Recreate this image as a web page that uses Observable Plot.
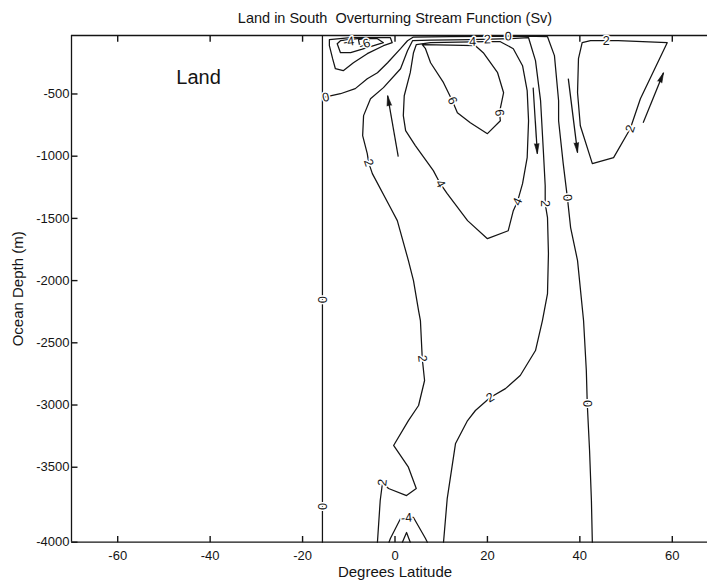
<!DOCTYPE html>
<html>
<head>
<meta charset="utf-8">
<script src="https://cdn.jsdelivr.net/npm/d3@7"></script>
<script src="https://cdn.jsdelivr.net/npm/@observablehq/plot@0.6"></script>
<style>
  html, body { margin: 0; padding: 0; background: #fff; overflow: hidden; }
  #chart svg { display: block; }
</style>
</head>
<body>
<div id="chart"></div>
<script>
// Axis ticks
const latTicks = [-60, -40, -20, 0, 20, 40, 60];
const depthTicks = [-4000, -3500, -3000, -2500, -2000, -1500, -1000, -500];

// Contours of the overturning stream function, [latitude, depth (m)]
const landEdgeZero = [[-15.7, -30], [-15.7, -4000]];

const zeroLine = [
  [-15.7, -530], [-11.8, -498], [-8.6, -457], [-6.0, -377], [-3.8, -329], [-1.6, -249],
  [1.2, -136], [2.7, -72], [3.9, -44], [12, -40], [20, -38], [28, -36], [33.0, -40],
  [34.5, -192], [35.4, -554], [35.4, -715], [36.4, -1060], [37.3, -1333], [38.0, -1574],
  [39.5, -1839], [40.8, -2321], [41.4, -2723], [41.6, -2988], [42.1, -3365], [42.5, -3722],
  [42.7, -4000]
];

const twoLine = [
  [-3.8, -4000], [-3.2, -3722], [-2.7, -3602], [-1.4, -3642], [2.5, -3689], [4.6, -3642],
  [2.9, -3500], [-0.3, -3325], [2.9, -3125], [5.1, -3004], [6.4, -2803], [5.9, -2627],
  [5.5, -2321], [5.1, -2241], [4.0, -2000], [2.9, -1839], [0.5, -1518], [-1.0, -1413],
  [-4.9, -1140], [-5.7, -1052], [-6.0, -980], [-7.0, -835], [-6.8, -674], [-5.3, -538],
  [-2.5, -449], [1.2, -297], [2.7, -152], [3.8, -72], [7.7, -68], [16.3, -64], [25, -56],
  [28.9, -48], [30.4, -232], [31.5, -554], [32.1, -956], [32.5, -1237], [32.5, -1381],
  [33.0, -1494], [33.2, -1783], [33.0, -2104], [31.9, -2321], [30.4, -2562], [27.1, -2763],
  [23.9, -2868], [20.6, -2940], [17.4, -3044], [15.7, -3125], [13.1, -3309], [11.3, -3709],
  [10.5, -4000]
];

const fourLoop = [
  [4.6, -104], [4.0, -168], [3.3, -329], [2.0, -514], [1.8, -674], [2.3, -795], [4.4, -915],
  [8.3, -1116], [9.8, -1221], [11.3, -1301], [15.7, -1518], [20.0, -1663], [24.5, -1599],
  [25.6, -1438], [26.5, -1365], [27.6, -1221], [28.6, -1012], [28.9, -715], [28.6, -473],
  [27.6, -273], [25.6, -136], [22.8, -80], [19.6, -80], [7.7, -88], [4.6, -104]
];

const sixLoop = [
  [5.9, -104], [6.6, -136], [7.7, -249], [10.5, -409], [12.4, -554], [13.5, -650],
  [16.3, -731], [20.0, -819], [22.8, -715], [22.6, -650], [23.5, -490], [22.2, -329],
  [19.1, -168], [17.4, -112], [12, -108], [5.9, -104]
];

// Negative cell next to the land wall
const westCellOuter = [
  [-14.2, -64], [-9.6, -48], [-1.0, -48], [-0.6, -88], [-2.5, -112], [-6.0, -176],
  [-9.0, -249], [-11.2, -313], [-12.9, -297], [-13.5, -216], [-14.2, -112], [-14.2, -64]
];
const westCellInner = [
  [-12.5, -96], [-11.8, -72], [-8.1, -56], [-3.8, -56], [-2.5, -88], [-6.0, -128],
  [-9.6, -168], [-11.8, -168], [-12.5, -96]
];
const westCellCore = [
  [-7.9, -64], [-6.8, -56], [-5.7, -64], [-5.5, -96], [-6.6, -112], [-7.7, -104], [-7.9, -64]
];

// Cell poleward of 40N
const eastCell = [
  [40.5, -88], [42.3, -72], [45.7, -72], [48.3, -72], [58.9, -88], [53.1, -538],
  [50.9, -779], [47.3, -1012], [42.7, -1060], [40.1, -755], [39.5, -490], [39.7, -216],
  [40.5, -88]
];

// Deep cell at the equator
const bottomOuter = [[-1.3, -4000], [-1.0, -3975], [1.2, -3842], [4.0, -3835], [6.6, -3975], [7.0, -4000]];
const bottomInner = [[1.6, -4000], [2.5, -3935], [3.3, -4000]];

const contourSets = {
  landEdgeZero, zeroLine, twoLine, fourLoop, sixLoop,
  westCellOuter, westCellInner, westCellCore, eastCell, bottomOuter, bottomInner
};

// Contour labels: [text, contour, latitude, depth]
const contourLabels = [
  ["0", "landEdgeZero", -15.7, -2153],
  ["0", "landEdgeZero", -15.7, -3762],
  ["0", "zeroLine", -15.0, -528],
  ["0", "zeroLine", 37.3, -1333],
  ["0", "zeroLine", 41.6, -2988],
  ["0", "zeroLine", 24.5, -38],
  ["2", "twoLine", -5.7, -1052],
  ["2", "twoLine", 5.9, -2627],
  ["2", "twoLine", -2.7, -3602],
  ["2", "twoLine", 32.5, -1381],
  ["2", "twoLine", 20.6, -2940],
  ["2", "twoLine", 20.0, -62],
  ["4", "fourLoop", 9.8, -1221],
  ["4", "fourLoop", 26.5, -1365],
  ["4", "fourLoop", 16.8, -80],
  ["6", "sixLoop", 12.4, -554],
  ["6", "sixLoop", 22.6, -650],
  ["-4", "westCellInner", -10.0, -80],
  ["-6", "westCellCore", -6.6, -100],
  ["2", "eastCell", 45.7, -72],
  ["2", "eastCell", 50.9, -779],
  ["-4", "bottomOuter", 2.5, -3838]
];

// Flow arrows: [lat from, depth from, lat to, depth to]
const flowArrows = [
  [0.7, -1004, -1.6, -514],
  [29.9, -449, 30.8, -980],
  [37.5, -377, 39.5, -972],
  [53.7, -731, 58.1, -329]
];

const landNote = [{ lat: -42.5, depth: -369, text: "Land" }];

// ---- layout ----
const W = 707, H = 580;
const X_DOMAIN = [-70, 70], X_RANGE = [71, 718];
const DEPTH_TOP = -30, DEPTH_BOTTOM = -4000, LAT_WEST = -70;
// The deepest 500 m of the vertical axis are drawn stretched (1.205x)
const stretch = d => (d < -3500 ? -3500 + (d + 3500) * 1.2052 : d);
const Y_DOMAIN = [stretch(DEPTH_BOTTOM), DEPTH_TOP];
const MARGIN_LEFT = 71, MARGIN_TOP = 35, MARGIN_BOTTOM = H - 541.7;
// inward tick length, in axis units (about 6 px)
const TICK_DEPTH = 50, TICK_LAT = 1.3;
const ink = "#141414";
const FONT = "'Liberation Sans', Arial, Helvetica, sans-serif";
const fmt = d => String(d);

// Same mapping as the plot's scales, for text and arrowhead orientation
const xs = d3.scaleLinear(X_DOMAIN, X_RANGE);
const yLin = d3.scaleLinear(Y_DOMAIN, [H - MARGIN_BOTTOM, MARGIN_TOP]);
const ys = d => yLin(stretch(d));

function alongAngle(pts, lat, depth) {
  const px = xs(lat), py = ys(depth);
  let best = Infinity, ang = 0;
  for (let i = 1; i < pts.length; i++) {
    const ax = xs(pts[i - 1][0]), ay = ys(pts[i - 1][1]);
    const bx = xs(pts[i][0]), by = ys(pts[i][1]);
    const dx = bx - ax, dy = by - ay, L2 = dx * dx + dy * dy || 1;
    const t = Math.max(0, Math.min(1, ((px - ax) * dx + (py - ay) * dy) / L2));
    const d = Math.hypot(ax + t * dx - px, ay + t * dy - py);
    if (d < best) { best = d; ang = Math.atan2(dy, dx) * 180 / Math.PI; }
  }
  if (ang > 90) ang -= 180;
  if (ang <= -90) ang += 180;
  return ang;
}

const contourRows = Object.entries(contourSets).flatMap(([id, pts]) =>
  pts.map(([lat, depth]) => ({ id, lat, depth })));

const labelRows = contourLabels.map(([text, id, lat, depth]) => ({
  text, lat, depth, angle: alongAngle(contourSets[id], lat, depth)
}));

const arrowRows = flowArrows.map(([x1, y1, x2, y2]) => {
  const dx = xs(x2) - xs(x1), dy = ys(y2) - ys(y1);
  return { x1, y1, x2, y2, angle: Math.atan2(dx, -dy) * 180 / Math.PI };
});

// Inward tick marks along the bottom, top and left edges of the box
const tickRows = [
  ...latTicks.map(t => ({ x1: t, x2: t, y1: DEPTH_BOTTOM, y2: DEPTH_BOTTOM + TICK_DEPTH * 0.83 })),
  ...latTicks.map(t => ({ x1: t, x2: t, y1: DEPTH_TOP, y2: DEPTH_TOP - TICK_DEPTH })),
  ...depthTicks.map(t => ({ x1: LAT_WEST, x2: LAT_WEST + TICK_LAT, y1: t, y2: t }))
];

const chart = Plot.plot({
  width: W,
  height: H,
  marginLeft: MARGIN_LEFT,
  marginRight: 0,
  marginTop: MARGIN_TOP,
  marginBottom: MARGIN_BOTTOM,
  style: { fontFamily: FONT, fontSize: "12.5px", background: "#fff", color: ink, overflow: "hidden" },
  x: { domain: X_DOMAIN, range: X_RANGE, axis: null },
  y: { domain: Y_DOMAIN, transform: stretch, axis: null },
  marks: [
    // tick labels
    Plot.axisX(latTicks, { anchor: "bottom", tickSize: 0, tickPadding: 9, tickFormat: fmt, label: null, fill: ink, fontSize: 13 }),
    Plot.axisY(depthTicks, { anchor: "left", tickSize: 0, tickPadding: 2, tickFormat: fmt, label: null, fill: ink, fontSize: 13 }),
    // inward tick marks
    Plot.link(tickRows, { x1: "x1", y1: "y1", x2: "x2", y2: "y2", stroke: ink, strokeWidth: 1.4 }),
    // box
    Plot.ruleY([DEPTH_TOP], { stroke: ink, strokeWidth: 1.3 }),
    Plot.ruleY([DEPTH_BOTTOM], { stroke: ink, strokeWidth: 1.3 }),
    Plot.ruleX([LAT_WEST], { stroke: ink, strokeWidth: 1.3 }),
    // contours, flow arrows, labels
    Plot.line(contourRows, { x: "lat", y: "depth", z: "id", stroke: ink, strokeWidth: 1.25, strokeLinejoin: "round" }),
    Plot.link(arrowRows, { x1: "x1", y1: "y1", x2: "x2", y2: "y2", stroke: ink, strokeWidth: 1.25 }),
    Plot.vector(arrowRows, { x: "x2", y: "y2", rotate: "angle", length: 10, r: 2.3, shape: "spike", anchor: "end", fill: ink, stroke: ink, strokeWidth: 0.6 }),
    Plot.text(labelRows, {
      x: "lat", y: "depth", text: "text", rotate: "angle",
      fontSize: 12.5, fill: ink, stroke: "white", strokeWidth: 3, textAnchor: "middle", lineAnchor: "middle"
    }),
    Plot.text(landNote, { x: "lat", y: "depth", text: "text", fontSize: 20, fill: ink, textAnchor: "middle", lineAnchor: "middle" }),
    Plot.text(["Land in South\u00a0 Overturning Stream Function (Sv)"], {
      x: [0], frameAnchor: "top", dy: -17, fontSize: 14.5, fill: ink, textAnchor: "middle", lineAnchor: "middle"
    }),
    Plot.text(["Degrees Latitude"], {
      x: [0], frameAnchor: "bottom", dy: 30, fontSize: 15, fill: ink, textAnchor: "middle", lineAnchor: "middle"
    }),
    Plot.text(["Ocean Depth (m)"], {
      frameAnchor: "left", dx: -53, rotate: -90, fontSize: 15, fill: ink, textAnchor: "middle", lineAnchor: "middle"
    })
  ]
});

document.getElementById("chart").appendChild(chart);
</script>
</body>
</html>
